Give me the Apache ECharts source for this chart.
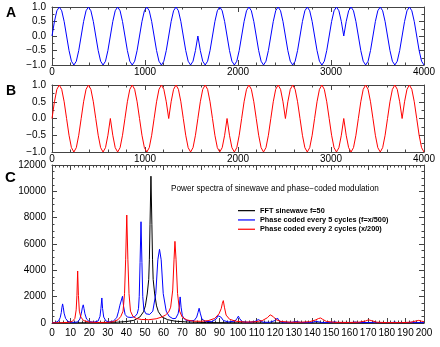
<!DOCTYPE html>
<html><head><meta charset="utf-8">
<script src="https://cdn.jsdelivr.net/npm/echarts@6/dist/echarts.min.js"></script>
<style>html,body{margin:0;padding:0;background:#fff}#c{width:440px;height:347px}</style>
</head><body><div id="c"></div>
<script>
// ---------- data ----------
// time series sampled 12 times per cycle over 0..4000
const waveSpan = 4000;
const waveA = [
 0,.5,.87,1,.87,.5,0,-.5,-.87,-1,-.87,-.5,
 0,.5,.87,1,.87,.5,0,-.5,-.87,-1,-.87,-.5,
 0,.5,.87,1,.87,.5,0,-.5,-.87,-1,-.87,-.5,
 0,.5,.87,1,.87,.5,0,-.5,-.87,-1,-.87,-.5,
 0,.5,.87,1,.87,.5,0,-.5,-.87,-1,-.87,-.5,
 0,-.5,-.87,-1,-.87,-.5,0,.5,.87,1,.87,.5,
 0,-.5,-.87,-1,-.87,-.5,0,.5,.87,1,.87,.5,
 0,-.5,-.87,-1,-.87,-.5,0,.5,.87,1,.87,.5,
 0,-.5,-.87,-1,-.87,-.5,0,.5,.87,1,.87,.5,
 0,-.5,-.87,-1,-.87,-.5,0,.5,.87,1,.87,.5,
 0,.5,.87,1,.87,.5,0,-.5,-.87,-1,-.87,-.5,
 0,.5,.87,1,.87,.5,0,-.5,-.87,-1,-.87,-.5,
 0,.5,.87,1,.87,.5,0,-.5,-.87,-1
];
const waveB = [
 0,.5,.87,1,.87,.5,0,-.5,-.87,-1,-.87,-.5,
 0,.5,.87,1,.87,.5,0,-.5,-.87,-1,-.87,-.5,
 0,-.5,-.87,-1,-.87,-.5,0,.5,.87,1,.87,.5,
 0,-.5,-.87,-1,-.87,-.5,0,.5,.87,1,.87,.5,
 0,.5,.87,1,.87,.5,0,-.5,-.87,-1,-.87,-.5,
 0,.5,.87,1,.87,.5,0,-.5,-.87,-1,-.87,-.5,
 0,-.5,-.87,-1,-.87,-.5,0,.5,.87,1,.87,.5,
 0,-.5,-.87,-1,-.87,-.5,0,.5,.87,1,.87,.5,
 0,.5,.87,1,.87,.5,0,-.5,-.87,-1,-.87,-.5,
 0,.5,.87,1,.87,.5,0,-.5,-.87,-1,-.87,-.5,
 0,-.5,-.87,-1,-.87,-.5,0,.5,.87,1,.87,.5,
 0,-.5,-.87,-1,-.87,-.5,0,.5,.87,1,.87,.5,
 0,.5,.87,1,.87,.5,0,-.5,-.87,-1
];

// power spectra
const blackFreq  = [0,10,20,30,35,40,44,47.2,49.2,50.2,51.2,52.0,52.35,52.7,53.2,53.7,54.05,54.4,55.2,56.2,57.2,59.2,62.2,66.2,73.2,83.2,100,130,200];
const blackPower = [0,10,20,40,60,110,200,450,850,1300,2200,3300,4800,7500,11150,7500,4800,3300,2200,1300,850,450,250,140,70,35,15,5,0];

const blueFreq = [0,2,3.5,4.4,5.0,5.3,5.7,6.1,6.5,7.3,8.5,10,12,13.8,15.0,15.8,16.3,16.8,17.2,17.7,18.6,20,22.5,
 24.8,25.8,26.3,26.8,27.2,27.8,29,31,33,34.8,35.8,36.5,37.1,37.9,38.5,39.3,40.5,42.5,44.5,45.8,46.5,46.9,47.35,47.85,
 48.35,48.8,49.4,50.5,52.5,54.2,55.8,56.9,57.8,58.7,59.8,61.4,63,65,66.5,67.8,68.4,68.9,69.4,70.1,71.5,74,76.5,77.8,
 78.5,79.1,79.7,80.6,82.5,86,88.2,89.3,90,90.8,92.2,95,98.5,99.5,100.2,100.9,102.2,106,109.2,110.2,110.9,111.8,113.5,
 117,119.8,120.6,121.2,121.9,123.5,129,130.7,131.5,132.3,134,140,141.5,142.3,143.1,145,150.5,152,153.5,161.5,163,164.5,
 172,173.5,175,183,184.3,185.5,192,193.5,195,200];
const bluePower = [20,40,150,400,800,1150,1450,1150,750,350,130,60,50,80,300,750,1150,1380,1100,700,300,110,60,
 150,500,1100,1900,1100,450,150,80,150,400,900,1350,1500,2030,1250,650,450,420,480,700,1100,2000,4600,7690,
 4600,2000,1000,700,650,900,2230,4800,5600,4800,2230,900,500,330,350,700,1200,1980,1200,550,250,150,200,450,
 800,1120,750,300,120,100,300,550,680,450,180,80,150,350,520,330,100,50,120,230,260,180,60,
 50,180,330,380,200,60,50,110,150,90,40,50,120,190,100,40,50,90,40,40,80,35,
 40,70,35,40,70,35,40,60,30,30];

const redFreq = [0,5,9,11,12.3,13.0,13.4,13.8,14.2,14.7,15.5,17,20,25,30,33,35.5,37,38.2,39.0,39.6,40.2,40.8,41.4,42.2,
 43.5,45.5,48,52,56,59,61,62.8,63.8,64.9,65.6,66.1,66.7,67.5,68.6,70,72.5,76,80,84,87.5,89.8,91.0,91.6,92.1,92.7,93.6,
 95.5,99,104,109,113,115.8,117.3,118.1,119,120.5,123,128,134,138.5,141.5,143.3,144.4,145.5,147.5,152,160,165,168.5,
 170.2,170.9,172,174.5,180,188,193,195.8,197.2,198.6,200];
const redPower = [10,20,50,130,350,1000,2100,3950,2100,900,450,180,70,40,50,100,250,500,900,2230,4800,8200,4800,2230,900,
 500,330,270,250,320,450,600,850,1200,2500,4800,6200,4800,2230,900,450,230,140,130,180,350,700,1100,1500,1700,1200,600,
 280,130,70,90,180,400,620,710,480,250,120,60,60,100,220,340,380,280,120,50,40,60,150,
 240,260,170,60,30,30,60,160,200,140,100];

const seriesNames = ['FFT sinewave f=50', 'Phase coded every 5 cycles (f=x/500)', 'Phase coded every 2 cycles (x/200)'];
const panelLetters = ['A', 'B', 'C'];
const spectrumTitle = 'Power spectra of sinewave and phase\u2212coded modulation';

// ---------- chart ----------
const FONT = '"Liberation Sans", Arial, Helvetica, sans-serif';
const FRAME = '#444';
const zip = (xs, ys) => ys.map((y, i) => [xs[i], y]);
const waveData = ys => ys.map((y, i) => [i * waveSpan / (ys.length - 1), y]);
const fmtWave = v => (v < 0 ? '\u2212' + (-v).toFixed(1) : v.toFixed(1));
const fmtPlain = v => String(v);

function xAxes(g, min, max, interval, minorSplit, margin) {
  const base = {
    type: 'value', gridIndex: g, min, max, interval,
    axisLine: { show: true, onZero: false, lineStyle: { color: FRAME, width: 1 } },
    axisTick: { show: true, inside: true, length: 5, lineStyle: { color: FRAME } },
    minorTick: { show: true, splitNumber: minorSplit, length: 2.5, lineStyle: { color: FRAME } },
    splitLine: { show: false }, minorSplitLine: { show: false }
  };
  return [
    Object.assign({}, base, { position: 'bottom',
      axisLabel: { show: true, margin, fontSize: 10, color: '#000', fontFamily: FONT, formatter: fmtPlain } }),
    Object.assign({}, base, { position: 'top', axisLabel: { show: false } })
  ];
}
function yAxes(g, min, max, interval, minorSplit, fmt) {
  const base = {
    type: 'value', gridIndex: g, min, max, interval,
    axisLine: { show: true, onZero: false, lineStyle: { color: FRAME, width: 1 } },
    axisTick: { show: true, inside: true, length: 5, lineStyle: { color: FRAME } },
    minorTick: { show: true, splitNumber: minorSplit, length: 2.5, lineStyle: { color: FRAME } },
    splitLine: { show: false }, minorSplitLine: { show: false }
  };
  return [
    Object.assign({}, base, { position: 'left',
      axisLabel: { show: true, margin: 6, fontSize: 10, color: '#000', fontFamily: FONT, formatter: fmt } }),
    Object.assign({}, base, { position: 'right', axisLabel: { show: false } })
  ];
}

const lineBase = { type: 'line', symbol: 'none', showSymbol: false, animation: false, z: 3 };

const option = {
  animation: false,
  backgroundColor: '#fff',
  textStyle: { fontFamily: FONT },
  grid: [
    { left: 52, right: 16, top: 7, height: 58 },
    { left: 52, right: 16, top: 85, height: 67 },
    { left: 52, right: 16, top: 165, height: 158 }
  ],
  xAxis: [
    ...xAxes(0, 0, 4000, 1000, 5, 2),
    ...xAxes(1, 0, 4000, 1000, 5, 2),
    ...xAxes(2, 0, 200, 10, 5, 5)
  ],
  yAxis: [
    ...yAxes(0, -1, 1, 0.5, 2, fmtWave),
    ...yAxes(1, -1, 1, 0.5, 2, fmtWave),
    ...yAxes(2, 0, 12000, 2000, 4, fmtPlain)
  ],
  title: {
    text: spectrumTitle, left: 171, top: 185, padding: 0,
    textStyle: { fontSize: 8.2, fontWeight: 'normal', color: '#000', fontFamily: FONT }
  },
  legend: {
    data: seriesNames, orient: 'vertical', left: 238, top: 206, padding: 0,
    icon: 'rect', itemWidth: 17, itemHeight: 1.2, itemGap: 0, itemTextGap: 4,
    textStyle: { fontSize: 7.3, fontWeight: 'bold', color: '#000', lineHeight: 9.3, fontFamily: FONT },
    selectedMode: false
  },
  graphic: [
    { type: 'text', left: 6, top: 6, style: { text: panelLetters[0], font: 'bold 14px "Liberation Sans", Arial', fill: '#000' } },
    { type: 'text', left: 6, top: 84, style: { text: panelLetters[1], font: 'bold 14px "Liberation Sans", Arial', fill: '#000' } },
    { type: 'text', left: 5, top: 170, style: { text: panelLetters[2], font: 'bold 15px "Liberation Sans", Arial', fill: '#000' } }
  ],
  series: [
    Object.assign({}, lineBase, { xAxisIndex: 0, yAxisIndex: 0, data: waveData(waveA),
      lineStyle: { color: '#0000ff', width: 1 } }),
    Object.assign({}, lineBase, { xAxisIndex: 2, yAxisIndex: 2, data: waveData(waveB),
      lineStyle: { color: '#ff0000', width: 1 } }),
    Object.assign({}, lineBase, { name: seriesNames[0], xAxisIndex: 4, yAxisIndex: 4, data: zip(blackFreq, blackPower),
      itemStyle: { color: '#000' }, lineStyle: { color: '#000', width: 1 } }),
    Object.assign({}, lineBase, { name: seriesNames[1], xAxisIndex: 4, yAxisIndex: 4, data: zip(blueFreq, bluePower),
      itemStyle: { color: '#0000ff' }, lineStyle: { color: '#0000ff', width: 1 } }),
    Object.assign({}, lineBase, { name: seriesNames[2], xAxisIndex: 4, yAxisIndex: 4, data: zip(redFreq, redPower),
      itemStyle: { color: '#ff0000' }, lineStyle: { color: '#ff0000', width: 1 } })
  ]
};

const chart = echarts.init(document.getElementById('c'), null, { renderer: 'canvas' });
chart.setOption(option);
</script></body></html>
